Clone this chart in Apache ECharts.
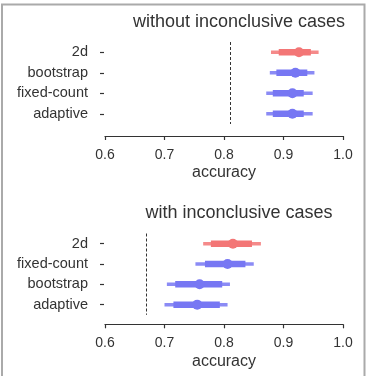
<!DOCTYPE html>
<html>
<head>
<meta charset="utf-8">
<script src="https://cdn.jsdelivr.net/npm/echarts@6/dist/echarts.min.js"></script>
<style>
  html, body { margin: 0; padding: 0; background: #fff; }
  #chart { width: 370px; height: 376px; }
</style>
</head>
<body>
<div id="chart"></div>
<script>
// panel 1: without inconclusive cases
const topCats = ['2d', 'bootstrap', 'fixed-count', 'adaptive'];
const topMean = [0.926, 0.920, 0.915, 0.915];
const topLo95 = [0.879, 0.877, 0.871, 0.871];
const topHi95 = [0.959, 0.952, 0.949, 0.949];
const topLo50 = [0.892, 0.888, 0.882, 0.882];
const topHi50 = [0.946, 0.940, 0.934, 0.934];
const topThreshold = 0.809;

// panel 2: with inconclusive cases
const botCats = ['2d', 'fixed-count', 'bootstrap', 'adaptive'];
const botMean = [0.815, 0.806, 0.759, 0.755];
const botLo95 = [0.765, 0.752, 0.704, 0.700];
const botHi95 = [0.862, 0.850, 0.810, 0.806];
const botLo50 = [0.778, 0.768, 0.718, 0.715];
const botHi50 = [0.847, 0.836, 0.797, 0.793];
const botThreshold = 0.670;

const xTicks = [0.6, 0.7, 0.8, 0.9, 1.0];

const RED = '#f37676';
const BLUE = '#7777f3';
const FONT = 'Liberation Sans';
const TXT = '#333';

function buildData(cats, lo95, hi95, lo50, hi50, mean) {
  return cats.map((c, i) => ({
    value: [i, lo95[i], hi95[i], lo50[i], hi50[i], mean[i]],
    itemStyle: { color: c === '2d' ? RED : BLUE }
  }));
}

function renderItem(params, api) {
  const idx = api.value(0);
  const color = api.visual('color');
  const a = api.coord([api.value(1), idx]);
  const b = api.coord([api.value(2), idx]);
  const c = api.coord([api.value(3), idx]);
  const d = api.coord([api.value(4), idx]);
  const m = api.coord([api.value(5), idx]);
  return {
    type: 'group',
    children: [
      { type: 'line', shape: { x1: a[0], y1: a[1], x2: b[0], y2: b[1] },
        style: { stroke: color, lineWidth: 3.5, opacity: 0.85 } },
      { type: 'line', shape: { x1: c[0], y1: c[1], x2: d[0], y2: d[1] },
        style: { stroke: color, lineWidth: 6.5 } },
      { type: 'circle', shape: { cx: m[0], cy: m[1], r: 5 },
        style: { fill: color } }
    ]
  };
}

function xAxisFor(gridIndex, offset) {
  return {
    type: 'value', gridIndex, min: xTicks[0], max: xTicks[xTicks.length - 1], interval: 0.1,
    offset,
    name: 'accuracy', nameLocation: 'middle', nameGap: 29,
    nameTextStyle: { fontFamily: FONT, fontSize: 16, color: TXT },
    axisLine: { show: true, lineStyle: { color: TXT, width: 1.2 } },
    axisTick: { show: true, length: 4, lineStyle: { color: TXT, width: 1.2 } },
    axisLabel: { fontFamily: FONT, fontSize: 14, color: TXT, margin: 12,
      formatter: v => v.toFixed(1) },
    splitLine: { show: false }
  };
}

function yAxisFor(gridIndex, cats) {
  return {
    type: 'category', gridIndex, data: cats, inverse: true, offset: 1,
    axisLine: { show: false },
    axisTick: { show: true, alignWithLabel: true, length: 4, lineStyle: { color: TXT, width: 1.2 } },
    axisLabel: { fontFamily: FONT, fontSize: 14.5, color: TXT, margin: 16 },
    splitLine: { show: false }
  };
}

function thresholdSeries(idx, value) {
  return {
    type: 'line', xAxisIndex: idx, yAxisIndex: idx, data: [], silent: true,
    markLine: {
      silent: true, symbol: ['none', 'none'], label: { show: false },
      lineStyle: { color: TXT, type: [3, 2], width: 1 },
      data: [{ xAxis: value }]
    }
  };
}

const chart = echarts.init(document.getElementById('chart'));
chart.setOption({
  backgroundColor: '#fff',
  animation: false,
  graphic: [{
    type: 'rect', shape: { x: 2, y: 4.5, width: 362.5, height: 380 },
    style: { fill: 'none', stroke: '#aaa', lineWidth: 2 }, silent: true
  }],
  title: [
    { text: 'without inconclusive cases', left: 239, top: 13, textAlign: 'center', padding: 0,
      textStyle: { fontFamily: FONT, fontSize: 18, fontWeight: 'normal', color: TXT } },
    { text: 'with inconclusive cases', left: 239, top: 204, textAlign: 'center', padding: 0,
      textStyle: { fontFamily: FONT, fontSize: 18, fontWeight: 'normal', color: TXT } }
  ],
  grid: [
    { left: 105, right: 27, top: 42, height: 82 },
    { left: 105, right: 27, top: 233.5, height: 81.3 }
  ],
  xAxis: [xAxisFor(0, 12), xAxisFor(1, 9.5)],
  yAxis: [yAxisFor(0, topCats), yAxisFor(1, botCats)],
  series: [
    thresholdSeries(0, topThreshold),
    thresholdSeries(1, botThreshold),
    {
      type: 'custom', xAxisIndex: 0, yAxisIndex: 0, renderItem,
      encode: { x: [1, 2, 3, 4, 5], y: 0 },
      data: buildData(topCats, topLo95, topHi95, topLo50, topHi50, topMean)
    },
    {
      type: 'custom', xAxisIndex: 1, yAxisIndex: 1, renderItem,
      encode: { x: [1, 2, 3, 4, 5], y: 0 },
      data: buildData(botCats, botLo95, botHi95, botLo50, botHi50, botMean)
    }
  ]
});
</script>
</body>
</html>
